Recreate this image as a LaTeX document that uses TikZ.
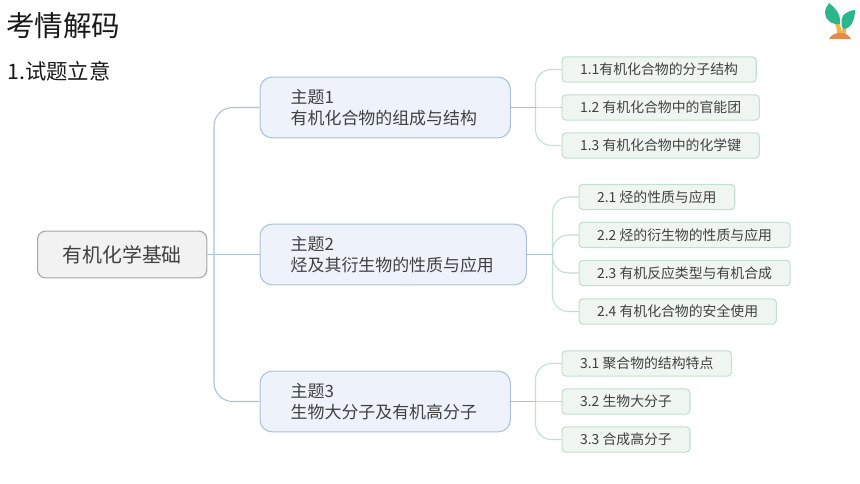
\documentclass[tikz,border=0pt]{standalone}
\usepackage{fontspec}
\setmainfont{Noto Sans CJK SC}
\definecolor{RootFill}{HTML}{F2F2F2}
\definecolor{RootLine}{HTML}{A6A6A6}
\definecolor{TopicFill}{HTML}{EEF3FB}
\definecolor{TopicLine}{HTML}{ABC1D6}
\definecolor{SubFill}{HTML}{EFF6F1}
\definecolor{SubLine}{HTML}{C3DFCF}
\definecolor{InkGray}{HTML}{404040}
\definecolor{LeafGreen}{HTML}{2BB68E}
\definecolor{StemOrange}{HTML}{F5B34C}
\definecolor{SoilOrange}{HTML}{E08C50}

\begin{document}
\begin{tikzpicture}[x=0.75pt, y=-0.75pt,
    root/.style={draw=RootLine, fill=RootFill, rounded corners=6pt, line width=0.8pt,
      text=InkGray, font=\fontsize{14.9}{18}\selectfont, anchor=west, inner xsep=18.8pt, minimum height=35pt},
    topic/.style={draw=TopicLine, fill=TopicFill, rounded corners=9pt, line width=0.8pt,
      text=InkGray, font=\fontsize{12.7}{15.75}\selectfont, align=left, anchor=west, inner xsep=23pt, minimum height=45.5pt},
    sub/.style={draw=SubLine, fill=SubFill, rounded corners=3pt, line width=0.8pt,
      text=InkGray, font=\fontsize{10.4}{13}\selectfont, anchor=west, inner xsep=13.6pt, minimum height=19pt},
    rootlink/.style={draw=TopicLine, line width=0.8pt},
    sublink/.style={draw=SubLine, line width=0.8pt}]
  \useasboundingbox (0,0) rectangle (860,484);

  \node[anchor=west, font=\fontsize{21.4}{25}\selectfont, text=black!90, inner sep=0pt] (title) at (6,26) {考情解码};
  \node[anchor=west, font=\fontsize{16}{19}\selectfont, text=black!90, inner sep=0pt] (intent) at (7,71) {1.试题立意};

  % sprout
  \fill[StemOrange] (837,34) .. controls (837,26) and (834,20) .. (830,14) .. controls (837,18) and (842,26) .. (842,34) -- cycle;
  \fill[StemOrange] (842,34) .. controls (842,26) and (845,21) .. (850,17) .. controls (847,24) and (846,28) .. (846,34) -- cycle;
  \fill[LeafGreen] (829,3) .. controls (835,8) and (841,13) .. (840,24) .. controls (832,25) and (825,20) .. (825,13) .. controls (825,9) and (827,6) .. (829,3) -- cycle;
  \fill[LeafGreen] (855,10) .. controls (855,20) and (851,29) .. (843,29) .. controls (840,24) and (841,15) .. (846,13) .. controls (849,11) and (852,10) .. (855,10) -- cycle;
  \fill[SoilOrange] (829,39) .. controls (831,35) and (835,33) .. (840,33) .. controls (845,33) and (849,35) .. (851,39) -- cycle;

  \node[root] (base) at (37,254.5) {有机化学基础};

  \node[topic, text width=141.75pt] (topic1) at (259.5,107.5) {主题1\\有机化合物的组成与结构};
  \node[topic, text width=153.75pt] (topic2) at (259.5,254.5) {主题2\\烃及其衍生物的性质与应用};
  \node[topic, text width=141.75pt] (topic3) at (259.5,401.5) {主题3\\生物大分子及有机高分子};

  \node[sub] (s11) at (561.5,69.5) {1.1有机化合物的分子结构};
  \node[sub] (s12) at (561.5,107.5) {1.2 有机化合物中的官能团};
  \node[sub] (s13) at (561.5,145.5) {1.3 有机化合物中的化学键};

  \node[sub] (s21) at (578.5,197) {2.1 烃的性质与应用};
  \node[sub] (s22) at (578.5,235) {2.2 烃的衍生物的性质与应用};
  \node[sub] (s23) at (578.5,273) {2.3 有机反应类型与有机合成};
  \node[sub] (s24) at (578.5,311.5) {2.4 有机化合物的安全使用};

  \node[sub] (s31) at (561.5,363.5) {3.1 聚合物的结构特点};
  \node[sub] (s32) at (561.5,401.5) {3.2 生物大分子};
  \node[sub] (s33) at (561.5,439.5) {3.3 合成高分子};

  \coordinate (hub0) at (214,254.5);
  \coordinate (hub1) at (535.5,107.5);
  \coordinate (hub2) at (552.5,254.5);
  \coordinate (hub3) at (535.5,401.5);

  \draw[rootlink] (base.east) -- (topic2.west);
  \draw[rootlink, rounded corners=14pt] (hub0) |- (topic1.west);
  \draw[rootlink, rounded corners=14pt] (hub0) |- (topic3.west);

  \draw[sublink, rounded corners=12pt] (hub1) |- (s11.west);
  \draw[sublink] (hub1) -- (s12.west);
  \draw[sublink, rounded corners=12pt] (hub1) |- (s13.west);
  \draw[rootlink] (topic1.east) -- (hub1);

  \draw[sublink, rounded corners=12pt] (hub2) |- (s21.west);
  \draw[sublink, rounded corners=12pt] (hub2) |- (s22.west);
  \draw[sublink, rounded corners=12pt] (hub2) |- (s23.west);
  \draw[sublink, rounded corners=12pt] (hub2) |- (s24.west);
  \draw[rootlink] (topic2.east) -- (hub2);

  \draw[sublink, rounded corners=12pt] (hub3) |- (s31.west);
  \draw[sublink] (hub3) -- (s32.west);
  \draw[sublink, rounded corners=12pt] (hub3) |- (s33.west);
  \draw[rootlink] (topic3.east) -- (hub3);
\end{tikzpicture}
\end{document}
